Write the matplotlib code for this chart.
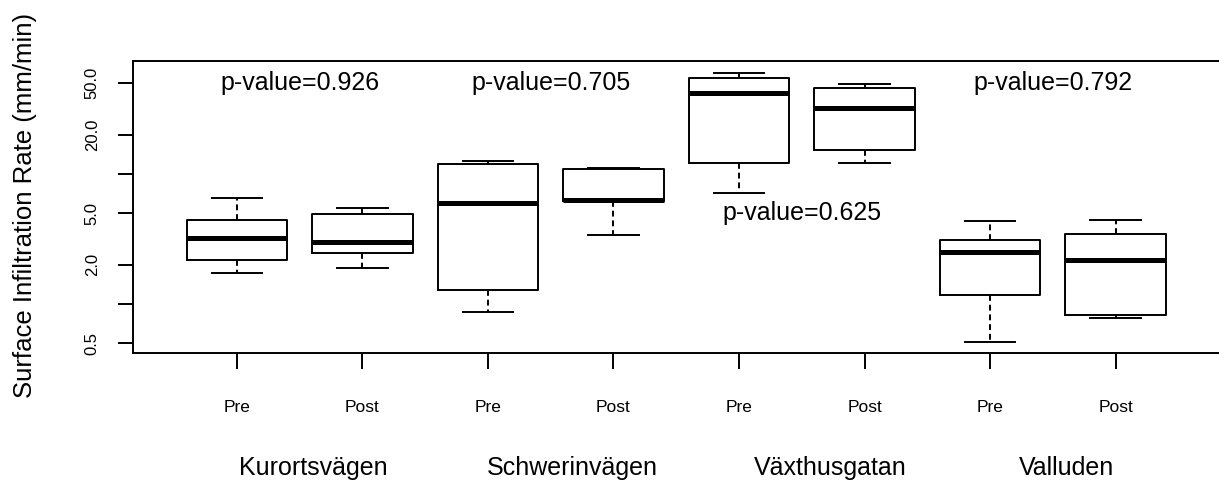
import matplotlib
matplotlib.use("Agg")
import matplotlib.pyplot as plt


SITES = ["Kurortsvägen", "Schwerinvägen", "Växthusgatan", "Valluden"]
PHASES = ["Pre", "Post"] * 4
P_VALUES = ["0.926", "0.705", "0.625", "0.792"]

# box statistics (mm/min), order: Pre, Post per site
WHISKER_LOW = [1.72, 1.88, 0.87, 3.39, 7.09, 12.05, 0.51, 0.78]
Q1 = [2.17, 2.45, 1.28, 6.18, 12.2, 15.27, 1.17, 0.82]
MEDIAN = [3.19, 3.01, 6.0, 6.29, 42.1, 32.3, 2.52, 2.17]
Q3 = [4.41, 4.89, 11.85, 10.85, 54.3, 45.5, 3.10, 3.43]
WHISKER_HIGH = [6.56, 5.43, 12.56, 11.04, 59.4, 48.9, 4.34, 4.41]

Y_TICKS = [0.5, 1.0, 2.0, 5.0, 10.0, 20.0, 50.0]
Y_TICK_LABELS = ["0.5", "", "2.0", "5.0", "", "20.0", "50.0"]

# where the p-values sit (x position, y value)
P_X = [1.5, 3.5, 5.5, 7.5]
P_Y = [50.0, 50.0, 5.0, 50.0]
SITE_X = [1.61, 3.67, 5.73, 7.61]


def build_stats():

    stats = []

    for i in range(len(MEDIAN)):
        stats.append(
            {
                "whislo": WHISKER_LOW[i],
                "q1": Q1[i],
                "med": MEDIAN[i],
                "q3": Q3[i],
                "whishi": WHISKER_HIGH[i],
                "fliers": [],
            }
        )

    return stats


def main():

    plt.rcParams["font.family"] = ["Liberation Sans", "DejaVu Sans"]

    fig = plt.figure(figsize=(12.19, 4.82), dpi=100)

    ax = fig.add_axes([0.1091, 0.2676, 0.908, 0.6058])

    positions = list(range(1, len(MEDIAN) + 1))

    line = dict(color="black", linewidth=1.4)

    ax.bxp(
        build_stats(),
        positions=positions,
        widths=0.8,
        capwidths=0.4,
        showfliers=False,
        boxprops=line,
        capprops=line,
        whiskerprops=dict(color="black", linewidth=1.4, linestyle=(0, (3, 2))),
        medianprops=dict(color="black", linewidth=3.6, solid_capstyle="butt"),
    )

    ax.set_yscale("log")
    ax.set_ylim(0.419, 73.8)
    ax.set_xlim(0.172, 8.99)

    ax.set_yticks(Y_TICKS)
    ax.set_yticklabels(Y_TICK_LABELS, rotation=90, va="center", fontsize=12)
    ax.yaxis.set_minor_locator(matplotlib.ticker.NullLocator())

    ax.set_xticks(positions)
    ax.set_xticklabels(PHASES, fontsize=12.5)

    ax.tick_params(axis="y", length=11, width=1.4, pad=13)
    ax.tick_params(axis="x", length=11.5, width=1.4, pad=22)

    for side in ["left", "top", "bottom", "right"]:
        ax.spines[side].set_linewidth(1.4)

    for x, y, p in zip(P_X, P_Y, P_VALUES):
        ax.text(x, y, "p-value=" + p, ha="center", va="center", fontsize=18)

    for x, name in zip(SITE_X, SITES):
        ax.text(
            x, -0.395, name,
            transform=ax.get_xaxis_transform(),
            ha="center", va="center", fontsize=18
        )

    fig.text(
        25 / 1219, 1 - 205 / 482,
        "Surface Infiltration Rate (mm/min)",
        rotation=90, ha="center", va="center", fontsize=18.5
    )

    fig.savefig("out.png", dpi=100)

    plt.close(fig)


if __name__ == "__main__":
    main()
